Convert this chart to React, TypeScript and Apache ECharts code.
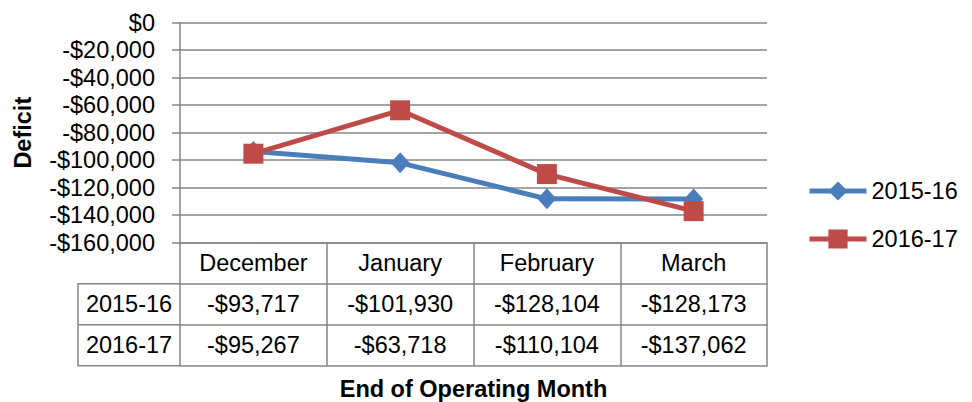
import React, { useEffect, useRef } from "react";
import * as echarts from "echarts";

const categories = ["December", "January", "February", "March"];
const seriesNames = ["2015-16", "2016-17"];
const values2015 = [-93717, -101930, -128104, -128173];
const values2016 = [-95267, -63718, -110104, -137062];
const yMin = -160000;
const yMax = 0;
const yInterval = 20000;

const FONT = "'Liberation Sans', Arial, sans-serif";
const FS = 23.5;
const GRID_LEFT = 180;
const GRID_RIGHT = 205;
const GRID_TOP = 22.7;
const GRID_BOTTOM = 159.3;
const ROW_H = 41;
const KEY_LEFT = 78;
const GREY = "#868686";
const BLUE = "#4A7EBB";
const RED = "#BE4B48";

const money = (v: number) =>
  v === 0 ? "$0" : (v < 0 ? "-$" : "$") + Math.abs(v).toLocaleString("en-US");

export default function App() {
  const ref = useRef<HTMLDivElement>(null);
  useEffect(() => {
    if (!ref.current) return;
    const chart = echarts.init(ref.current, undefined, { renderer: "svg" });
    const axisY = 402 - GRID_BOTTOM;
    const tableRows = [values2015, values2016];
    const rowAxes = tableRows.map((vals, i) => ({
      type: "category" as const,
      gridIndex: 0,
      position: "bottom" as const,
      offset: ROW_H * (i + 1),
      data: vals.map(money),
      boundaryGap: true,
      axisLine: { show: true, onZero: false, lineStyle: { color: GREY, width: 1.5 } },
      axisTick: { show: false },
      axisLabel: {
        interval: 0,
        margin: 20,
        verticalAlign: "middle" as const,
        color: "#000",
        fontSize: FS,
        fontFamily: FONT,
      },
    }));
    const keyGraphics: any[] = [];
    const rowTop = axisY + ROW_H;
    const rowBottom = axisY + ROW_H * 3;
    keyGraphics.push({
      type: "polyline",
      shape: {
        points: [
          [GRID_LEFT, rowTop],
          [KEY_LEFT, rowTop],
          [KEY_LEFT, rowBottom],
          [GRID_LEFT, rowBottom],
        ],
      },
      style: { stroke: GREY, lineWidth: 1.5, fill: "none" },
    });
    keyGraphics.push({
      type: "line",
      shape: { x1: KEY_LEFT, y1: rowTop + ROW_H, x2: GRID_LEFT, y2: rowTop + ROW_H },
      style: { stroke: GREY, lineWidth: 1.5 },
    });
    seriesNames.forEach((n, i) => {
      keyGraphics.push({
        type: "text",
        x: (KEY_LEFT + GRID_LEFT) / 2,
        y: rowTop + ROW_H * i + ROW_H / 2,
        style: {
          text: n,
          fill: "#000",
          font: `${FS}px ${FONT}`,
          align: "center",
          verticalAlign: "middle",
        },
      });
    });
    chart.setOption({
      animation: false,
      textStyle: { fontFamily: FONT },
      grid: {
        left: GRID_LEFT,
        right: GRID_RIGHT,
        top: GRID_TOP,
        bottom: GRID_BOTTOM,
        containLabel: false,
        outerBoundsMode: "none",
      },
      legend: {
        orient: "vertical",
        left: 802,
        top: 174,
        itemWidth: 57,
        itemHeight: 24,
        itemGap: 24,
        data: seriesNames,
        lineStyle: { width: 5 },
        textStyle: { fontSize: FS, color: "#000", fontFamily: FONT },
      },
      xAxis: [
        {
          type: "category",
          gridIndex: 0,
          position: "bottom",
          data: categories,
          boundaryGap: true,
          axisLine: { show: true, onZero: false, lineStyle: { color: GREY, width: 1.5 } },
          axisTick: {
            show: true,
            length: ROW_H * 3,
            lineStyle: { color: GREY, width: 1.5 },
          },
          axisLabel: {
            interval: 0,
            margin: 20,
            verticalAlign: "middle",
            color: "#000",
            fontSize: FS,
            fontFamily: FONT,
          },
        },
        ...rowAxes,
        {
          type: "category",
          gridIndex: 0,
          position: "bottom",
          offset: ROW_H * 3,
          data: categories,
          boundaryGap: true,
          axisLine: { show: true, onZero: false, lineStyle: { color: GREY, width: 1.5 } },
          axisTick: { show: false },
          axisLabel: { show: false },
          name: "End of Operating Month",
          nameLocation: "middle",
          nameGap: 11,
          nameTextStyle: {
            fontSize: FS,
            fontWeight: "bold",
            color: "#000",
            fontFamily: FONT,
          },
        },
      ],
      yAxis: {
        type: "value",
        min: yMin,
        max: yMax,
        interval: yInterval,
        axisLine: { show: true, onZero: false, lineStyle: { color: GREY, width: 1.5 } },
        axisTick: { show: true, length: 8, lineStyle: { color: GREY, width: 1.5 } },
        splitLine: { show: true, lineStyle: { color: GREY, width: 1.5 } },
        axisLabel: {
          margin: 25,
          formatter: money,
          color: "#000",
          fontSize: FS,
          fontFamily: FONT,
        },
        name: "Deficit",
        nameLocation: "middle",
        nameRotate: 90,
        nameGap: 145,
        nameTextStyle: {
          fontSize: FS,
          fontWeight: "bold",
          color: "#000",
          fontFamily: FONT,
        },
      },
      series: [
        {
          name: seriesNames[0],
          type: "line",
          xAxisIndex: 0,
          data: values2015,
          symbol: "diamond",
          symbolSize: [19, 21],
          lineStyle: { color: BLUE, width: 5 },
          itemStyle: { color: BLUE },
          z: 2,
        },
        {
          name: seriesNames[1],
          type: "line",
          xAxisIndex: 0,
          data: values2016,
          symbol: "rect",
          symbolSize: 20,
          lineStyle: { color: RED, width: 5 },
          itemStyle: { color: RED },
          z: 3,
        },
      ],
      graphic: keyGraphics,
    });
    return () => chart.dispose();
  }, []);
  return (
    <div
      ref={ref}
      style={{ position: "absolute", left: 0, top: 0, width: 972, height: 402, background: "#fff" }}
    />
  );
}
